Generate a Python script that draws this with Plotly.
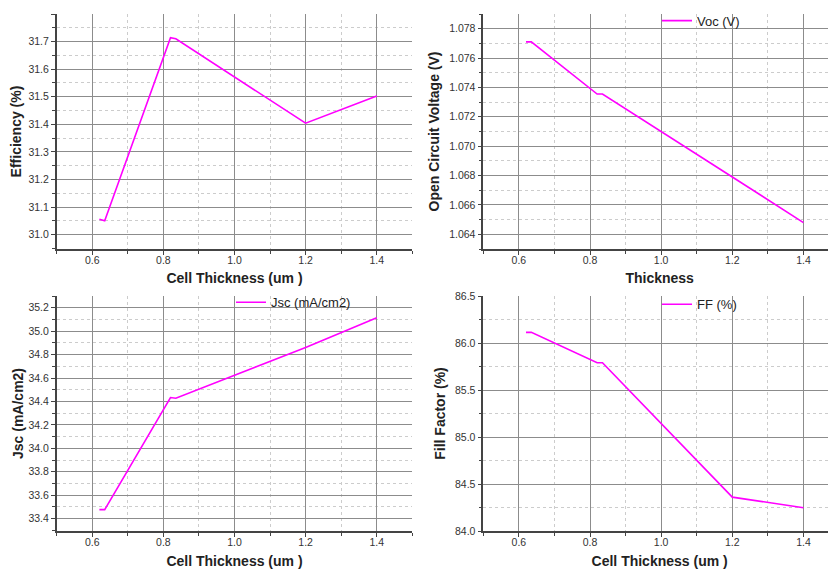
import plotly.graph_objects as go

# ---- data ----
thickness = [0.62, 0.635, 0.82, 0.835, 1.2, 1.4]
eta = [31.056, 31.050, 31.714, 31.710, 31.404, 31.503]
voc = [1.0771, 1.0771, 1.07355, 1.07355, 1.0679, 1.0648]
jsc = [33.477, 33.477, 34.434, 34.428, 34.860, 35.114]
ff = [86.113, 86.113, 85.790, 85.790, 84.360, 84.248]

series_names = ["eta (%)", "Voc (V)", "Jsc (mA/cm2)", "FF (%)"]
y_titles = ["Efficiency (%)", "Open Circuit Voltage (V)", "Jsc (mA/cm2)", "Fill Factor (%)"]
x_titles = ["Cell Thickness (um )", "Thickness", "Cell Thickness (um )", "Cell Thickness (um )"]
y_ranges = [[30.948, 31.8], [1.063, 1.079], [33.295, 35.3], [84.0, 86.5]]
y_dticks = [0.1, 0.002, 0.2, 0.5]
y_formats = [".1f", ".3f", ".1f", ".1f"]
x_tick_vals = [0.6, 0.8, 1.0, 1.2, 1.4]

# page body has an 8px margin: the figure is drawn from (8, 8) of the window
OFF = 8
W, H = 836 - OFF, 570 - OFF
MAGENTA = "#ff00ff"
FONT = "Liberation Sans, Arial, sans-serif"

# plot-area boxes in window pixels (left, right, top, bottom)
boxes = [
    (56.7, 412.3, 14, 249),
    (483.3, 836, 14, 249),
    (56.7, 412.3, 296, 531),
    (483.3, 836, 296, 531),
]
x_ranges = [[0.5, 1.5], [0.5, 1.4915], [0.5, 1.5], [0.5, 1.4915]]
legend_pos = [(231, 20.7), (657, 20.7), (231, 302.3), (657, 304.3)]
y_standoff = [5, 6, 2, 6]
x_standoff = [8, 8, 9, 9]

fig = go.Figure()
all_y = [eta, voc, jsc, ff]
for i in range(4):
    sfx = "" if i == 0 else str(i + 1)
    fig.add_trace(go.Scatter(
        x=thickness, y=all_y[i], mode="lines", name=series_names[i],
        line=dict(color=MAGENTA, width=1.6),
        xaxis="x" + sfx, yaxis="y" + sfx,
        legend="legend" + sfx,
    ))

layout = dict(
    width=W, height=H,
    margin=dict(l=0, r=0, t=0, b=0, autoexpand=False),
    paper_bgcolor="white", plot_bgcolor="white",
    font=dict(family=FONT, color="#222"),
)
for i in range(4):
    sfx = "" if i == 0 else str(i + 1)
    l, r, t, b = [v - OFF for v in boxes[i]]
    layout["xaxis" + sfx] = dict(
        domain=[max(l / W, 0), min(r / W, 1)], anchor="y" + sfx, range=x_ranges[i],
        tickvals=x_tick_vals, tickformat=".1f",
        ticks="outside", ticklen=4, tickcolor="#444", tickwidth=1,
        ticklabelstandoff=-3,
        showline=True, linecolor="#444", linewidth=1.5,
        showgrid=True, gridcolor="#8c8c8c", gridwidth=1,
        zeroline=False, automargin=False,
        tickfont=dict(size=10.5, color="#333", family=FONT),
        minor=dict(dtick=0.1, tick0=0.5, ticks="outside", ticklen=3, tickcolor="#444",
                   showgrid=True, gridcolor="#cccccc", griddash="dot", gridwidth=1),
        title=dict(text="<b>" + x_titles[i] + "</b>", font=dict(size=14, color="#222", family=FONT),
                   standoff=x_standoff[i]),
    )
    layout["yaxis" + sfx] = dict(
        domain=[max(1 - b / H, 0), min(1 - t / H, 1)], anchor="x" + sfx, range=y_ranges[i],
        dtick=y_dticks[i], tick0=0, tickformat=y_formats[i],
        ticks="outside", ticklen=4, tickcolor="#444", tickwidth=1,
        showline=True, linecolor="#444", linewidth=1.5,
        showgrid=True, gridcolor="#8c8c8c", gridwidth=1,
        zeroline=False, automargin=False,
        tickfont=dict(size=10.5, color="#333", family=FONT),
        minor=dict(dtick=y_dticks[i] / 2, tick0=0, ticks="outside", ticklen=3, tickcolor="#444",
                   showgrid=True, gridcolor="#cccccc", griddash="dot", gridwidth=1),
        title=dict(text="<b>" + y_titles[i] + "</b>", font=dict(size=14, color="#222", family=FONT),
                   standoff=y_standoff[i]),
    )
    lx, ly = legend_pos[i]
    layout["legend" + sfx] = dict(
        x=(lx - OFF) / W, y=1 - (ly - OFF) / H, xanchor="left", yanchor="middle",
        bgcolor="rgba(0,0,0,0)", borderwidth=0,
        font=dict(size=13, color="#222", family=FONT),
    )

fig.update_layout(**layout)
fig.write_html("out.html")
